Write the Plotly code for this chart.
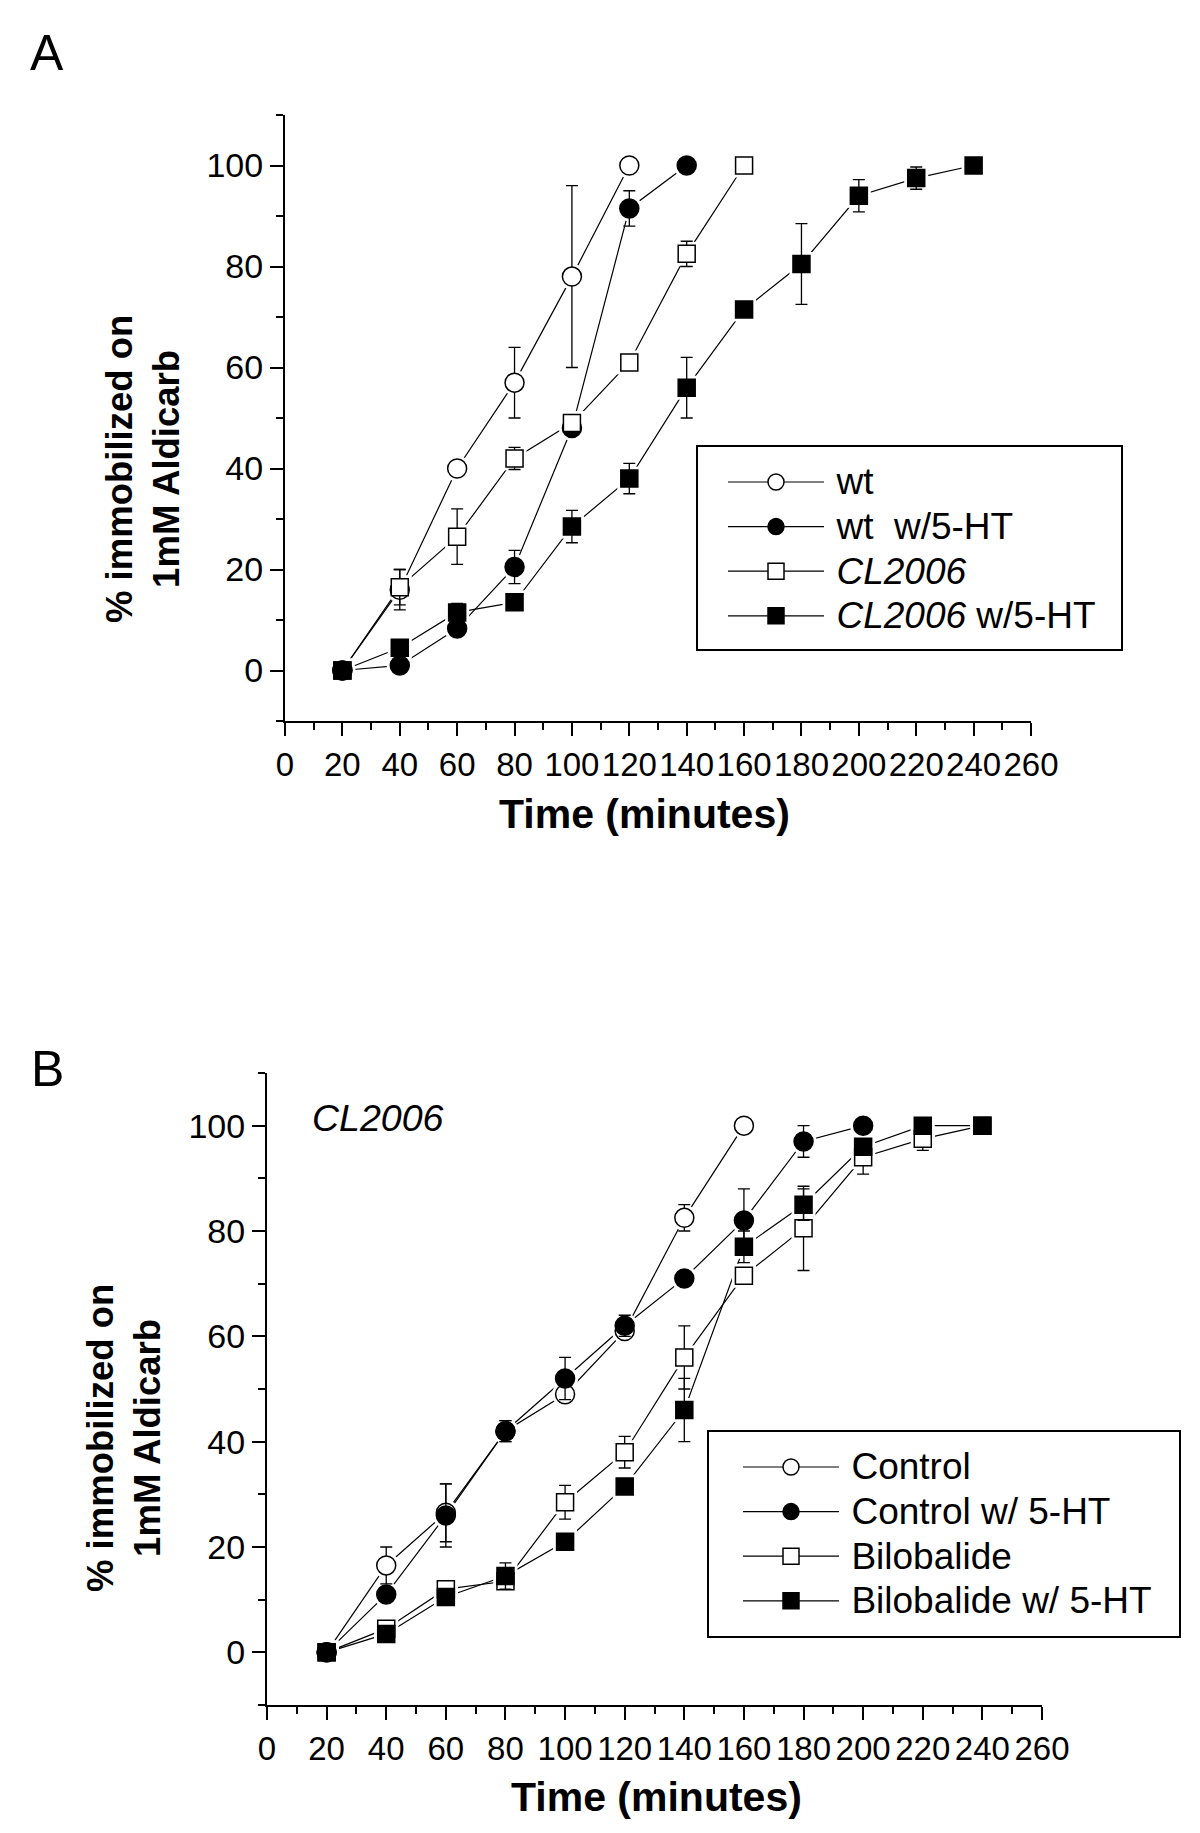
import plotly.graph_objects as go

# ---------------- Data: panel A ----------------
wt_x = [20, 40, 60, 80, 100, 120]
wt_y = [0, 16, 40, 57, 78, 100]
wt_err = [0, 4, 0, 7, 18, 0]

wt5_x = [20, 40, 60, 80, 100, 120, 140]
wt5_y = [0, 1, 8.3, 20.5, 48, 91.5, 100]
wt5_err = [0, 0, 0, 3.3, 1, 3.5, 0]

cl_x = [20, 40, 60, 80, 100, 120, 140, 160]
cl_y = [0, 16.5, 26.5, 42, 49, 61, 82.5, 100]
cl_err = [0, 3.5, 5.5, 2.2, 1.5, 1.3, 2.5, 0]

cl5_x = [20, 40, 60, 80, 100, 120, 140, 160, 180, 200, 220, 240]
cl5_y = [0, 4.5, 11.5, 13.5, 28.5, 38, 56, 71.5, 80.5, 94, 97.5, 100]
cl5_err = [0, 0, 1.8, 0, 3.2, 3, 6, 0, 8, 3.2, 2.2, 0]

# ---------------- Data: panel B ----------------
ctl_x = [20, 40, 60, 80, 100, 120, 140, 160]
ctl_y = [0, 16.5, 26.5, 42, 49, 61, 82.5, 100]
ctl_err = [0, 3.5, 5.5, 2, 1.5, 1.3, 2.5, 0]

ctl5_x = [20, 40, 60, 80, 100, 120, 140, 160, 180, 200]
ctl5_y = [0, 11, 26, 42, 52, 62, 71, 82, 97, 100]
ctl5_err = [0, 0, 6, 2, 4, 2, 0, 6, 3, 0]

bil_x = [20, 40, 60, 80, 100, 120, 140, 160, 180, 200, 220, 240]
bil_y = [0, 4.5, 12, 13.5, 28.5, 38, 56, 71.5, 80.5, 94, 97.5, 100]
bil_err = [0, 0, 1, 0, 3.2, 3, 6, 0, 8, 3.2, 2.2, 0]

bil5_x = [20, 40, 60, 80, 100, 120, 140, 160, 180, 200, 220, 240]
bil5_y = [0, 3.5, 10.5, 14.5, 21, 31.5, 46, 77, 85, 96, 100, 100]
bil5_err = [0, 0, 0, 2.5, 0, 0, 6, 3, 3, 0, 0, 0]

names_a = ["wt", "wt  w/5-HT", "<i>CL2006</i>", "<i>CL2006</i> w/5-HT"]
names_b = ["Control", "Control w/ 5-HT", "Bilobalide", "Bilobalide w/ 5-HT"]

x_ticks = list(range(0, 261, 20))
y_ticks = list(range(0, 101, 20))

W, H = 1200, 1833
FONT = "Liberation Sans, Arial, sans-serif"

styles = [
    dict(symbol="circle", fill="white", size=19),
    dict(symbol="circle", fill="black", size=19),
    dict(symbol="square", fill="white", size=17),
    dict(symbol="square", fill="black", size=17),
]

panels = [
    dict(xa="x", ya="y", legend="legend",
         series=[(wt_x, wt_y, wt_err), (wt5_x, wt5_y, wt5_err),
                 (cl_x, cl_y, cl_err), (cl5_x, cl5_y, cl5_err)],
         names=names_a),
    dict(xa="x2", ya="y2", legend="legend2",
         series=[(ctl_x, ctl_y, ctl_err), (ctl5_x, ctl5_y, ctl5_err),
                 (bil_x, bil_y, bil_err), (bil5_x, bil5_y, bil5_err)],
         names=names_b),
]


def legend_label(name):
    return '<span style="font-size:37px">\u2009' + name + '</span>'


fig = go.Figure()
for p in panels:
    # connecting lines
    for (xs, ys, es) in p["series"]:
        fig.add_trace(go.Scatter(x=xs, y=ys, mode="lines", xaxis=p["xa"], yaxis=p["ya"],
                                 line=dict(color="black", width=1.2), showlegend=False,
                                 hoverinfo="skip"))
    # white halos so the lines stop short of the markers
    for (xs, ys, es), st in zip(p["series"], styles):
        fig.add_trace(go.Scatter(x=xs, y=ys, mode="markers", xaxis=p["xa"], yaxis=p["ya"],
                                 marker=dict(symbol=st["symbol"], size=st["size"] + 7,
                                             color="white", line=dict(width=0)),
                                 showlegend=False, hoverinfo="skip"))
    # markers with error bars
    for (xs, ys, es), st in zip(p["series"], styles):
        fig.add_trace(go.Scatter(x=xs, y=ys, mode="markers", xaxis=p["xa"], yaxis=p["ya"],
                                 marker=dict(symbol=st["symbol"], size=st["size"],
                                             color=st["fill"],
                                             line=dict(color="black", width=1.5)),
                                 error_y=dict(type="data", array=es, visible=True,
                                              color="black", thickness=1.3, width=6),
                                 showlegend=False))
    # legend entries
    for name, st in zip(p["names"], styles):
        fig.add_trace(go.Scatter(x=[None], y=[None], mode="lines+markers",
                                 name=legend_label(name),
                                 xaxis=p["xa"], yaxis=p["ya"], legend=p["legend"],
                                 line=dict(color="black", width=1.2),
                                 marker=dict(symbol=st["symbol"], size=st["size"] + 3,
                                             color=st["fill"],
                                             line=dict(color="black", width=1.5))))


def px_x(v):
    return v / W


def px_y(v):
    return 1 - v / H


def xaxis_cfg(x0, x1):
    return dict(domain=[px_x(x0), px_x(x1)], range=[0, 260], tickvals=x_ticks,
                ticks="outside", ticklen=13, tickwidth=2, tickcolor="black",
                showline=True, linewidth=2, linecolor="black", showgrid=False,
                zeroline=False, tickangle=0, automargin=False,
                tickfont=dict(family=FONT, size=33, color="black"),
                minor=dict(tick0=0, dtick=10, ticks="outside", ticklen=7,
                           tickwidth=2, tickcolor="black", showgrid=False))


def yaxis_cfg(y_top, y_bot, anchor):
    return dict(domain=[px_y(y_bot), px_y(y_top)], range=[-10, 110], tickvals=y_ticks,
                anchor=anchor, automargin=False,
                ticks="outside", ticklen=13, tickwidth=2, tickcolor="black",
                showline=True, linewidth=2, linecolor="black", showgrid=False,
                zeroline=False,
                tickfont=dict(family=FONT, size=34, color="black"),
                minor=dict(tick0=0, dtick=10, ticks="outside", ticklen=7,
                           tickwidth=2, tickcolor="black", showgrid=False))


legend_common = dict(bgcolor="rgba(0,0,0,0)", borderwidth=0,
                     font=dict(family=FONT, size=32, color="black"),
                     itemwidth=96, xanchor="left", yanchor="top",
                     tracegroupgap=0, traceorder="normal")

ann_font = dict(family=FONT, color="black")
annotations = [
    dict(text="A", x=px_x(47), y=px_y(53), font=dict(size=50, **ann_font)),
    dict(text="B", x=px_x(47), y=px_y(1069), font=dict(size=50, **ann_font)),
    dict(text="<b>% immobilized on<br>1mM Aldicarb</b>", x=px_x(143), y=px_y(469),
         textangle=-90, font=dict(size=36.5, **ann_font)),
    dict(text="<b>% immobilized on<br>1mM Aldicarb</b>", x=px_x(124), y=px_y(1438),
         textangle=-90, font=dict(size=36.5, **ann_font)),
    dict(text="<b>Time (minutes)</b>", x=px_x(644), y=px_y(814), font=dict(size=41, **ann_font)),
    dict(text="<b>Time (minutes)</b>", x=px_x(656), y=px_y(1797), font=dict(size=41, **ann_font)),
    dict(text="<i>CL2006</i>", x=px_x(378), y=px_y(1118), font=dict(size=37.5, **ann_font)),
]
for a in annotations:
    a.update(xref="paper", yref="paper", showarrow=False, xanchor="center", yanchor="middle")

# legend frames
boxes = [(697, 446, 1122, 650), (708, 1431, 1180, 1637)]
shapes = [dict(type="rect", xref="paper", yref="paper",
               x0=px_x(b[0]), x1=px_x(b[2]), y0=px_y(b[3]), y1=px_y(b[1]),
               line=dict(color="black", width=2), fillcolor="rgba(0,0,0,0)", layer="above")
          for b in boxes]

fig.update_layout(
    width=W, height=H, autosize=False,
    margin=dict(l=0, r=0, t=0, b=0, pad=0, autoexpand=False),
    paper_bgcolor="white", plot_bgcolor="white",
    font=dict(family=FONT, color="black"),
    xaxis=dict(xaxis_cfg(285, 1031), anchor="y"),
    yaxis=yaxis_cfg(115, 721, "x"),
    xaxis2=dict(xaxis_cfg(267, 1042), anchor="y2"),
    yaxis2=yaxis_cfg(1073, 1705, "x2"),
    legend=dict(x=px_x(723), y=px_y(454.7), **legend_common),
    legend2=dict(x=px_x(738), y=px_y(1439.7), **legend_common),
    annotations=annotations,
    shapes=shapes,
)

fig.write_html(
    "out.html",
    config={"displayModeBar": False, "responsive": False},
    post_script=("document.body.style.margin='0';"
                 "document.body.style.overflow='hidden';"
                 "document.documentElement.style.overflow='hidden';"),
)
